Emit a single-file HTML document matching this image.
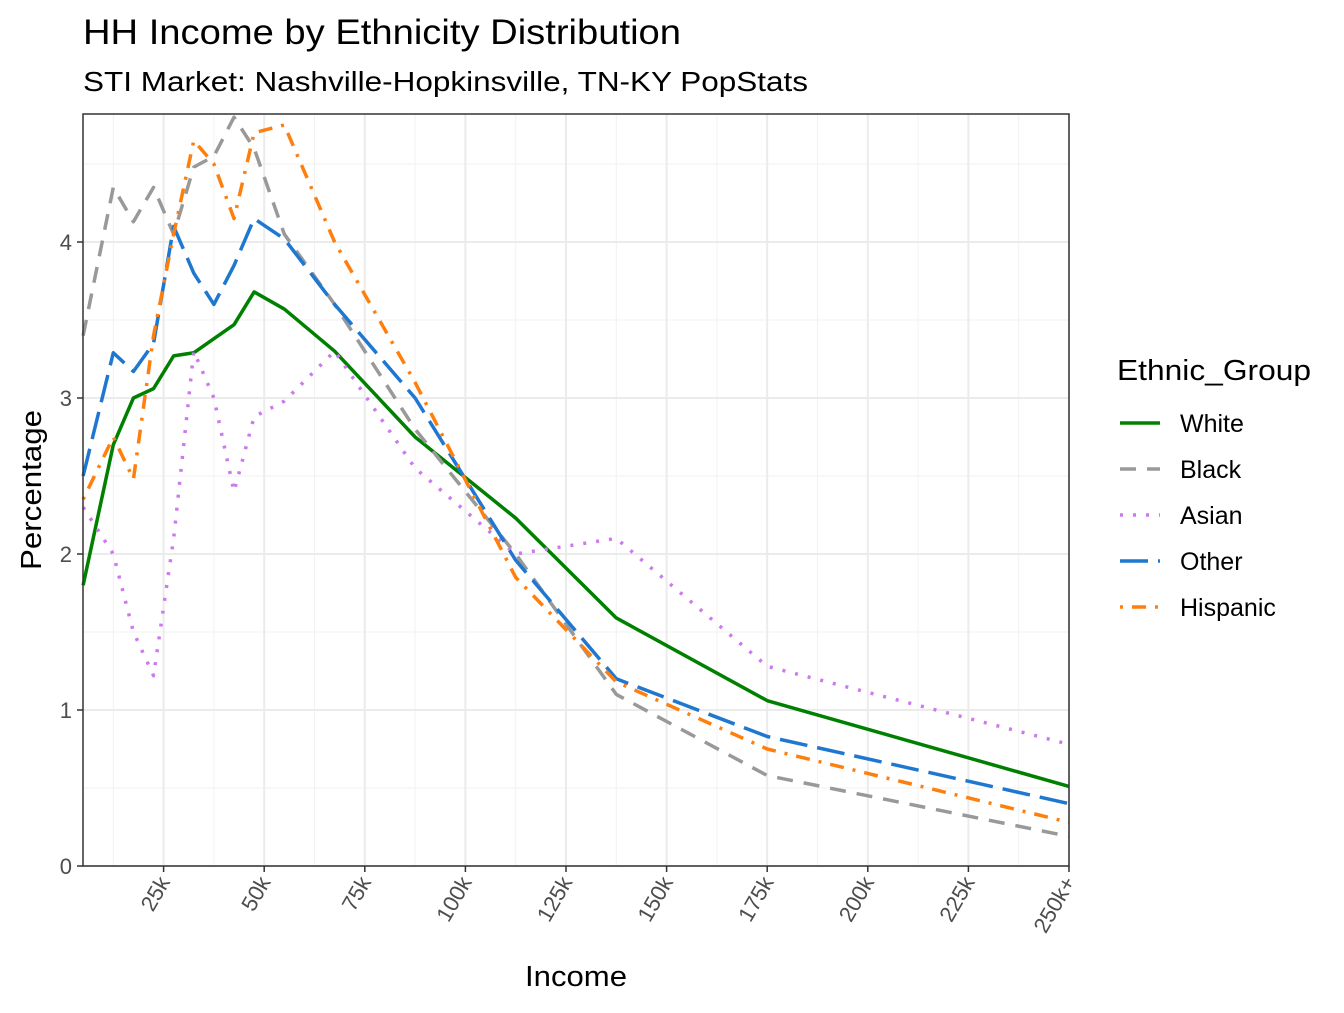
<!DOCTYPE html>
<html><head><meta charset="utf-8"><style>
body{margin:0;background:#fff}
svg text{font-family:"Liberation Sans",Arial,sans-serif}
</style></head><body>
<svg width="1344" height="1008" viewBox="0 0 1344 1008" xmlns="http://www.w3.org/2000/svg">
<text x="83" y="44" font-size="35" textLength="598" lengthAdjust="spacingAndGlyphs" fill="#000">HH Income by Ethnicity Distribution</text>
<text x="83" y="91" font-size="28" textLength="725" lengthAdjust="spacingAndGlyphs" fill="#000">STI Market: Nashville-Hopkinsville, TN-KY PopStats</text>
<g id="grid"></g>
<g id="series"></g>
<rect x="83" y="114" width="986" height="752" fill="none" stroke="#333" stroke-width="1.5"/>
<g id="axes"></g>
<text x="576" y="986" font-size="29" textLength="102" lengthAdjust="spacingAndGlyphs" text-anchor="middle">Income</text>
<text transform="translate(41,490) rotate(-90)" font-size="29" textLength="160" lengthAdjust="spacingAndGlyphs" text-anchor="middle">Percentage</text>
<text x="1117" y="380" font-size="29" textLength="194" lengthAdjust="spacingAndGlyphs">Ethnic_Group</text>
<g id="legend"></g>
</svg>
<script>
const incomes=[5,12.5,17.5,22.5,27.5,32.5,37.5,42.5,47.5,55,67.5,87.5,112.5,137.5,175,250];
const white=[1.8,2.7,3.0,3.06,3.27,3.29,3.38,3.47,3.68,3.57,3.3,2.75,2.23,1.59,1.06,0.51];
const black=[3.4,4.35,4.13,4.35,4.05,4.48,4.55,4.8,4.6,4.05,3.6,2.8,2.0,1.1,0.58,0.19];
const asian=[2.3,2.0,1.5,1.22,2.1,3.3,3.0,2.4,2.88,2.98,3.3,2.55,2.0,2.1,1.28,0.78];
const other=[2.5,3.29,3.17,3.35,4.1,3.8,3.6,3.85,4.15,4.02,3.6,3.0,1.96,1.2,0.83,0.4];
const hispanic=[2.35,2.75,2.48,3.4,4.05,4.65,4.5,4.15,4.7,4.75,4.0,3.1,1.85,1.18,0.75,0.28];
const xTicks=[25,50,75,100,125,150,175,200,225,250];
const xTickLabels=["25k","50k","75k","100k","125k","150k","175k","200k","225k","250k+"];
const yTicks=[0,1,2,3,4];
const NS="http://www.w3.org/2000/svg";
const X=v=>63+v*4.024, Y=v=>866-v*156;
function mk(tag,attrs,parent){const e=document.createElementNS(NS,tag);for(const k in attrs)e.setAttribute(k,attrs[k]);parent.appendChild(e);return e;}
const grid=document.getElementById('grid'),axes=document.getElementById('axes'),ser=document.getElementById('series'),leg=document.getElementById('legend');
for(let v=0.5;v<4.9;v+=1){const l=mk('line',{x1:83,x2:1069,y1:Y(v),y2:Y(v),stroke:'#f2f2f2','stroke-width':1},grid);}
for(let v=12.5;v<250;v+=25){const l=mk('line',{x1:X(v),x2:X(v),y1:114,y2:866,stroke:'#f2f2f2','stroke-width':1},grid);}
yTicks.forEach(v=>{const l=mk('line',{x1:83,x2:1069,y1:Y(v),y2:Y(v),stroke:'#ebebeb','stroke-width':2},grid);
const t=mk('line',{x1:77,x2:83,y1:Y(v),y2:Y(v),stroke:'#333','stroke-width':1.5},axes);
const tx=mk('text',{x:72,y:Y(v)+8,'font-size':22,fill:'#4d4d4d','text-anchor':'end'},axes);tx.textContent=v;});
xTicks.forEach((v,i)=>{const l=mk('line',{x1:X(v),x2:X(v),y1:114,y2:866,stroke:'#ebebeb','stroke-width':2},grid);
const t=mk('line',{x1:X(v),x2:X(v),y1:866,y2:872,stroke:'#333','stroke-width':1.5},axes);
const tx=mk('text',{transform:`translate(${X(v)+7},${882}) rotate(-60)`,'font-size':22,fill:'#4d4d4d','text-anchor':'end'},axes);tx.textContent=xTickLabels[i];});
const defs=[["White",white,"#008000",""],["Black",black,"#999999","16 11"],["Asian",asian,"#cc79f0","3 10"],["Other",other,"#1f77d0","28 10"],["Hispanic",hispanic,"#ff7f0e","3 9 14 9"]];
defs.forEach((d,i)=>{const pts=incomes.map((x,j)=>X(x)+','+Y(d[1][j])).join(' ');
const p=mk('polyline',{points:pts,fill:'none',stroke:d[2],'stroke-width':3.5,'stroke-dasharray':d[3],'stroke-linejoin':'round'},ser);
const ly=423+i*46;const g=mk('g',{},leg);
mk('line',{x1:1120,x2:1160,y1:ly,y2:ly,stroke:d[2],'stroke-width':3.5,'stroke-dasharray':d[3]},g);
const t=mk('text',{x:1180,y:ly+9,'font-size':25,fill:'#000'},g);t.textContent=d[0];});
</script>
</body></html>
